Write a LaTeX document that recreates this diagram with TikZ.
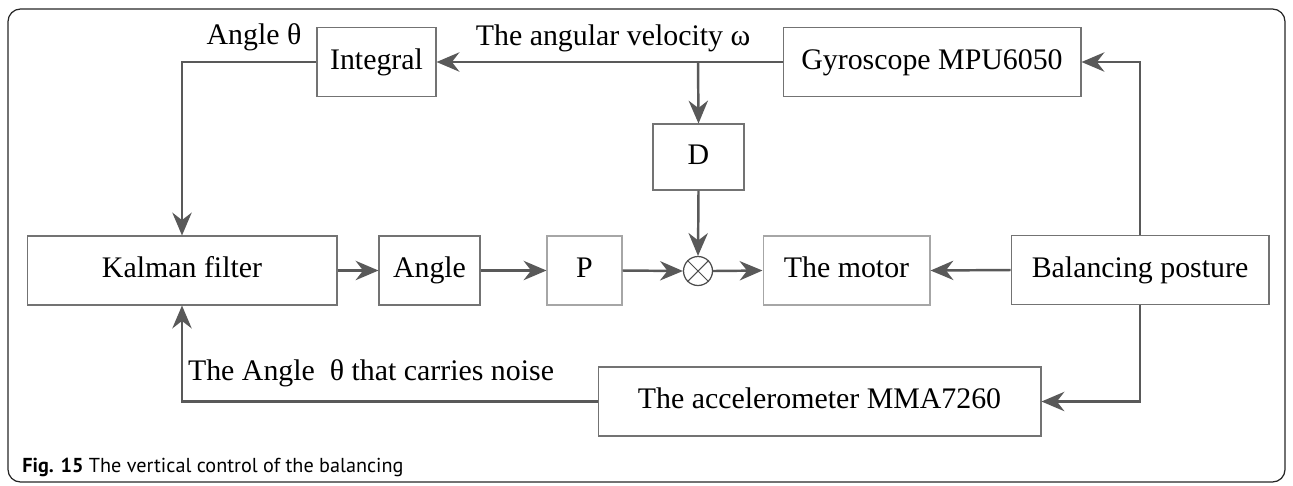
\documentclass[tikz,border=0pt]{standalone}
\usepackage{fontspec}
\setmainfont{Liberation Serif}
\newfontfamily\capfont{PT Sans}
\usetikzlibrary{arrows.meta,positioning}

\begin{document}
\begin{tikzpicture}[x=0.02cm, y=-0.02cm,
    block/.style={rectangle, draw=black!55, line width=0.6pt, minimum height=1.38cm, inner sep=2pt,
        text height=11.5pt, text depth=3.5pt, font=\fontsize{17}{20}\selectfont},
    lbl/.style={font=\fontsize{17}{20}\selectfont, inner sep=0pt},
    link/.style={draw=black!65, line width=1.4pt},
    >={Stealth[length=13pt,width=11pt]}
]
    \useasboundingbox (0,0) rectangle (1293,485);
    % outer frame
    \draw[black!85, line width=0.7pt, rounded corners=0.25cm] (8,9) rectangle (1285,482);

    % top row
    \node[block, minimum width=2.38cm] (integral) at (376.5,62) {Integral};
    \node[block, minimum width=5.96cm] (gyro) at (932,62) {Gyroscope MPU6050};
    \node[block, minimum width=1.82cm, minimum height=1.32cm] (dterm) at (698.5,157) {D};

    % middle row
    \node[block, minimum width=6.2cm] (kalman) at (182,270.5) {Kalman filter};
    \node[block, minimum width=2.02cm] (angle) at (429.5,270.5) {Angle};
    \node[block, draw=black!35, minimum width=1.5cm] (pterm) at (584.5,270.5) {P};
    \node[circle, draw=black!70, line width=0.7pt, minimum size=0.58cm, inner sep=0pt] (mult) at (698,271) {};
    \draw[black!70, line width=0.6pt] (mult.north west) -- (mult.south east) (mult.north east) -- (mult.south west);
    \node[block, draw=black!35, minimum width=3.34cm] (motor) at (846.5,270.5) {The motor};
    \node[block, minimum width=5.16cm] (posture) at (1140,270) {Balancing posture};

    % bottom row
    \node[block, minimum width=8.86cm] (accel) at (819.5,401.5) {The accelerometer MMA7260};

    % labels
    \node[lbl] (angtheta) at (254,37) {Angle θ};
    \node[lbl] (omega) at (613,38) {The angular velocity ω};
    \node[lbl] (noisy) at (371,373) {The Angle \ θ that carries noise};
    \node[anchor=west, inner sep=0pt, font=\capfont\fontsize{11.5}{14}\selectfont] (caption) at (22,467) {\textbf{Fig. 15} The vertical control of the balancing};

    % connectors
    \coordinate (split) at (698,62);
    \draw[link, ->] (gyro.west) -- (integral.east);
    \draw[link, ->] (integral.west) -| (kalman.north);
    \draw[link, ->] (split) -- (dterm.north);
    \draw[link, ->] (dterm.south) -- (mult.north);
    \draw[link, ->] (kalman.east) -- (angle.west);
    \draw[link, ->] (angle.east) -- (pterm.west);
    \draw[link, ->] (pterm.east) -- (mult.west);
    \draw[link, ->] (mult.east) -- (motor.west);
    \draw[link, ->] (posture.west) -- (motor.east);
    \draw[link, ->] (posture.north) |- (gyro.east);
    \draw[link, ->] (posture.south) |- (accel.east);
    \draw[link, ->] (accel.west) -| (kalman.south);
\end{tikzpicture}
\end{document}
